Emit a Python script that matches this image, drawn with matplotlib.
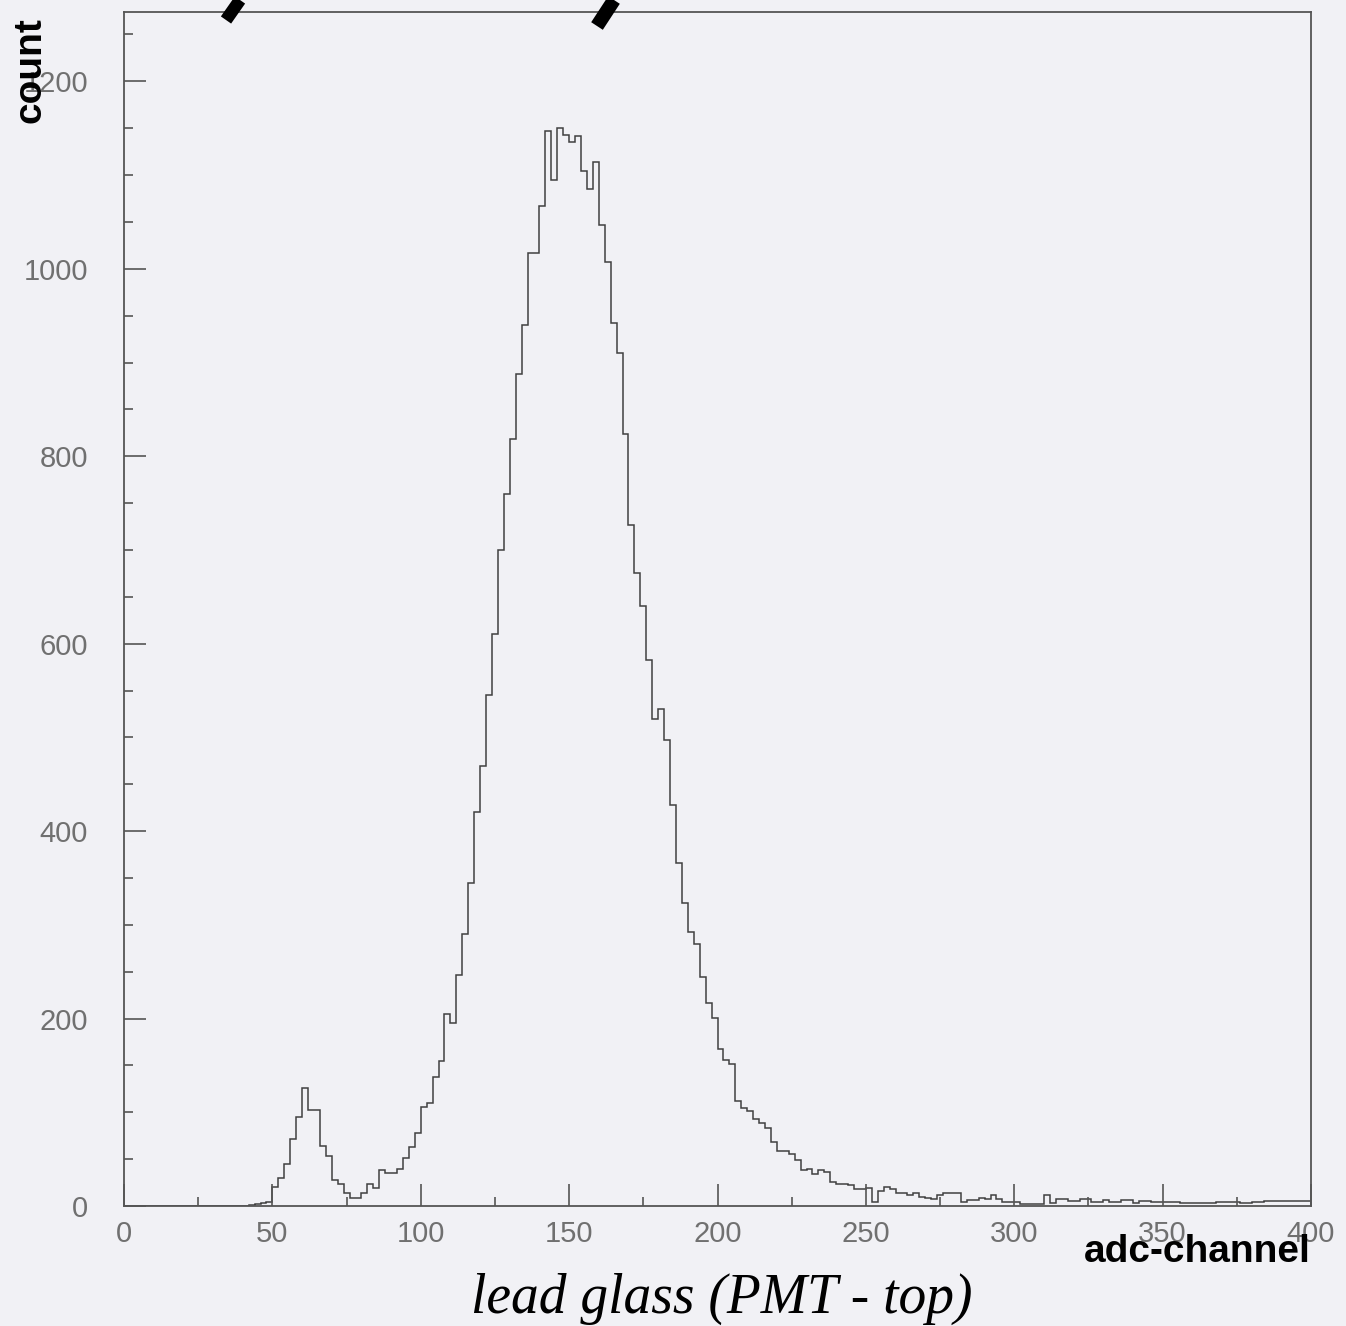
import numpy as np
import matplotlib.pyplot as plt
from matplotlib.lines import Line2D

# histogram of adc channels, bin width 2, bins start at 0,2,...,398
bin_edges = np.arange(0, 402, 2)
counts = [
    0, 0, 0, 0, 0, 0, 0, 0, 0, 0,                       # 0-18
    0, 0, 0, 0, 0, 0, 0, 0, 0, 0,                       # 20-38
    0, 1, 2, 3, 4, 20, 30, 45, 72, 95,                  # 40-58
    126, 102, 102, 64, 53, 28, 23, 14, 9, 9,            # 60-78
    14, 24, 19, 38, 35, 35, 40, 51, 63, 78,             # 80-98
    106, 110, 138, 155, 205, 195, 246, 290, 345, 420,   # 100-118
    470, 545, 610, 700, 760, 818, 888, 940, 1017, 1017, # 120-138
    1067, 1147, 1095, 1150, 1143, 1135, 1142, 1104, 1085, 1114,  # 140-158
    1047, 1007, 942, 910, 824, 727, 675, 640, 583, 520, # 160-178
    530, 497, 428, 366, 323, 292, 280, 244, 217, 201,   # 180-198
    168, 156, 152, 112, 105, 101, 93, 89, 83, 68,       # 200-218
    59, 59, 56, 49, 38, 40, 34, 38, 36, 26,             # 220-238
    24, 24, 22, 18, 18, 19, 4, 16, 20, 18,              # 240-258
    14, 14, 12, 14, 10, 9, 8, 12, 14, 14,               # 260-278
    14, 4, 6, 6, 9, 8, 12, 8, 4, 4,                     # 280-298
    4, 2, 2, 2, 2, 12, 3, 7, 7, 5,                      # 300-318
    5, 7, 7, 4, 4, 6, 4, 4, 6, 6,                       # 320-338
    3, 5, 5, 4, 4, 4, 4, 4, 3, 3,                       # 340-358
    3, 3, 3, 3, 4, 4, 4, 4, 3, 3,                       # 360-378
    4, 4, 5, 5, 5, 5, 5, 5, 5, 5,                       # 380-398
]
x_ticks = [0, 50, 100, 150, 200, 250, 300, 350, 400]
y_ticks = [0, 200, 400, 600, 800, 1000, 1200]

bg = '#f1f1f5'
fig = plt.figure(figsize=(13.46, 13.26), dpi=100, facecolor=bg)
ax = fig.add_axes([124/1346, 120/1326, 1187/1346, 1194/1326])
ax.set_facecolor(bg)

ax.stairs(counts, bin_edges, color='#404040', linewidth=1.1)

ax.set_xlim(0, 400)
ax.set_ylim(0, 1274)
ax.set_xticks(x_ticks)
ax.set_xticks(np.arange(0, 401, 25), minor=True)
ax.set_yticks(y_ticks)
ax.set_yticks(np.arange(0, 1274, 50), minor=True)

for s in ax.spines.values():
    s.set_color('#555555')
    s.set_linewidth(1.3)

ax.tick_params(which='both', direction='in', colors='#555555', width=1.2,
               labelcolor='#707070', labelsize=21)
ax.tick_params(which='major', length=16)
ax.tick_params(which='minor', length=6.5)
ax.tick_params(axis='y', pad=26)
ax.tick_params(axis='x', pad=10)
for lab in ax.get_xticklabels() + ax.get_yticklabels():
    lab.set_family('Liberation Sans')

fig.text(30/1346, 1 - 70/1326, 'count', rotation=90, ha='center', va='center',
         fontsize=28, fontweight='bold', family='Liberation Sans')
fig.text(1311/1346, 1 - 1252/1326, 'adc-channel', ha='right', va='center',
         fontsize=28, fontweight='bold', family='Liberation Sans')
fig.text(722/1346, 1 - 1299/1326, 'lead glass (PMT - top)', ha='center', va='center',
         fontsize=40, style='italic', family='Liberation Serif')

# fragments of cut-off lettering at the top of the scan
fig.add_artist(Line2D([226/1346, 240/1346], [1 - 20/1326, 1.0], color='black',
                      linewidth=9, solid_capstyle='butt'))
fig.add_artist(Line2D([597/1346, 614/1346], [1 - 26/1326, 1.0], color='black',
                      linewidth=10, solid_capstyle='butt'))

fig.savefig('out.png', dpi=100, facecolor=bg)
